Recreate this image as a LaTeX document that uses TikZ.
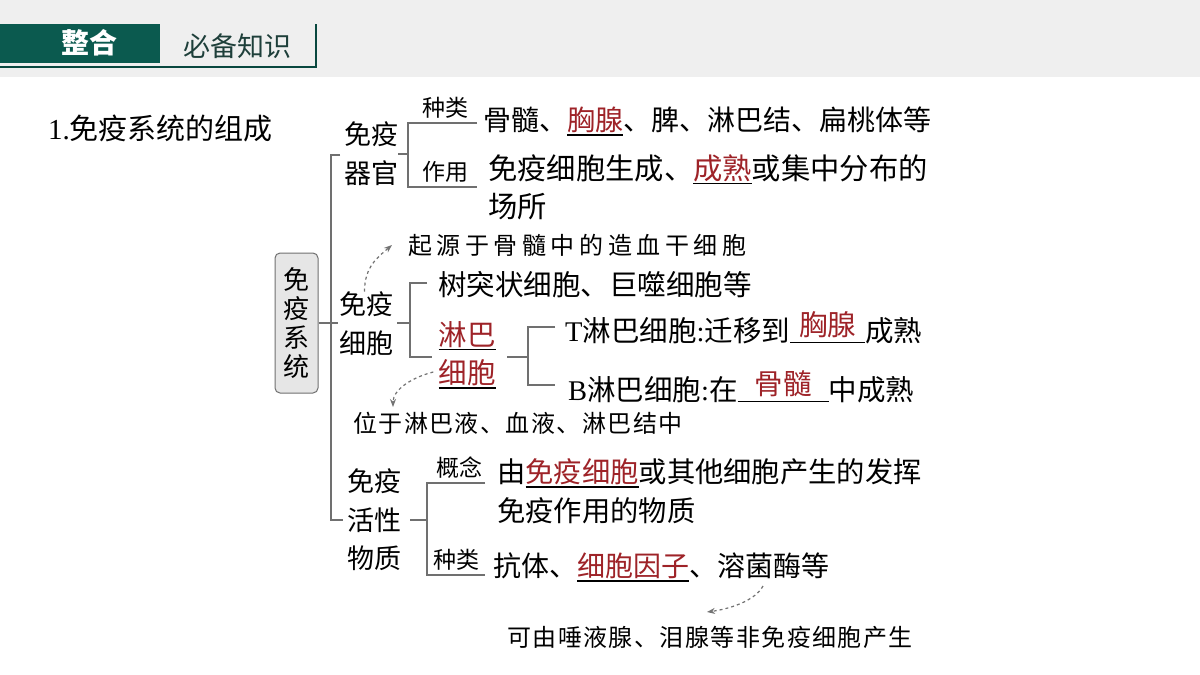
\documentclass[tikz,border=0pt]{standalone}
\usepackage{fontspec}
\setmainfont{Liberation Serif}
\newfontfamily\cjk{Noto Sans CJK SC}
\newfontfamily\kai[LetterSpace=6]{Noto Sans CJK SC}
\newfontfamily\kaiwide[LetterSpace=19]{Noto Sans CJK SC}
\usetikzlibrary{arrows.meta}

\definecolor{hdgreen}{HTML}{0B5A4F}
\definecolor{hdtext}{HTML}{1E3F3A}
\definecolor{ansred}{HTML}{9E2328}
\definecolor{linegray}{HTML}{707070}
\definecolor{bandgray}{HTML}{EFEFEF}
\definecolor{boxgray}{HTML}{E6E6E6}

% red answer with underline below it
\newcommand\fillin[1]{\setbox0\hbox{\textcolor{ansred}{#1}}\rlap{\rule[-5pt]{\wd0}{1.3pt}}\box0}
% red answer raised over a wider blank
\newcommand\gapin[2]{\setbox0\hbox{\hspace{#1}\raisebox{6pt}{\textcolor{ansred}{#2}}\hspace{#1}}\rlap{\rule[-1pt]{\wd0}{1.3pt}}\box0}

\begin{document}
\begin{tikzpicture}[x=1pt,y=-1pt,
  txt/.style={inner sep=0pt, anchor=base west, font=\cjk\fontsize{#1}{38.5}\selectfont},
  txt/.default=29,
  cat/.style={inner sep=0pt, align=center, font=\cjk\fontsize{27}{38.5}\selectfont},
  lbl/.style={inner sep=0pt, font=\cjk\fontsize{23}{26}\selectfont},
  note/.style={inner sep=0pt, anchor=west, font=\kai\fontsize{24}{26}\selectfont},
  brace/.style={draw=linegray, line width=1.3pt},
  hint/.style={draw=gray!90!black, dashed, line width=1.2pt, -{Stealth[length=8pt,width=6pt]}}]
\useasboundingbox (0,0) rectangle (1200,675);
\fill[white] (0,0) rectangle (1200,675);

% header
\fill[bandgray] (0,0) rectangle (1200,77);
\fill[hdgreen] (0,24) rectangle (160,63);
\draw[hdgreen!80!black, line width=1.5pt] (0,67) -- (316,67) -- (316,24);
\node[font=\cjk\bfseries\fontsize{28}{30}\selectfont, text=white, inner sep=0pt] (zhenghe) at (89,43) {整合};
\node[font=\cjk\fontsize{27}{30}\selectfont, text=hdtext, inner sep=0pt] (bibei) at (237,46) {必备知识};

\node[txt] (title) at (48,139) {\rmfamily 1.\cjk 免疫系统的组成};

% system box and main bracket
\node[draw=linegray, fill=boxgray, rounded corners=5pt, line width=1pt, minimum width=43pt,
  minimum height=140pt, inner sep=0pt, align=center, font=\cjk\fontsize{26}{29}\selectfont]
  (sys) at (296.5,323) {免\\疫\\系\\统};
\coordinate (mtop) at (331,155);
\coordinate (mbot) at (331,520);
\draw[brace] (340,155) -- (mtop) -- (mbot) -- (343,520);
\draw[brace] (sys.east) -- (338,323);

% organs
\node[cat] (organ) at (371,153.5) {免疫\\器官};
\draw[brace] (398,154) -- (408,154);
\draw[brace] (477,123) -- (408,123) -- (408,187) -- (477,187);
\node[lbl] (kind1) at (445,108) {种类};
\node[lbl] (use1) at (445,172) {作用};
\node[txt=28] (organs) at (483,130.6) {骨髓、\fillin{胸腺}、脾、淋巴结、扁桃体等};
\node[txt=29.3, anchor=west, align=left] (site) at (488,187.5) {免疫细胞生成、\fillin{成熟}或集中分布的\\场所};

% cells
\node[cat] (cells) at (366.5,323.5) {免疫\\细胞};
\draw[brace] (397,323) -- (410,323);
\draw[brace] (427,283) -- (410,283) -- (410,357) -- (432,357);
\node[txt=28.5] (dendr) at (438,295.8) {树突状细胞、巨噬细胞等};
\node[txt=28.5, anchor=center, align=center] (lymph) at (467,355) {\fillin{淋巴}\\\fillin{细胞}};
\draw[brace] (507,357) -- (528,357);
\draw[brace] (555,327) -- (528,327) -- (528,385) -- (555,385);
\node[txt=28.5] (tcell) at (565,341.8) {\rmfamily T\cjk 淋巴细胞\rmfamily :\cjk 迁移到\gapin{9pt}{胸腺}成熟};
\node[txt=28.5] (bcell) at (568,400.8) {\rmfamily B\cjk 淋巴细胞\rmfamily :\cjk 在\gapin{17pt}{骨髓}中成熟};
\node[note, font=\kaiwide\fontsize{24}{26}\selectfont] (origin) at (408,245) {起源于骨髓中的造血干细胞};
\node[note] (located) at (353,423) {位于淋巴液、血液、淋巴结中};
\draw[hint] ([xshift=-2pt]cells.north) .. controls +(0,-25) and +(-14,12) .. ([xshift=-16pt]origin.west);
\draw[hint] ([xshift=-5pt,yshift=-17pt]lymph.west) .. controls +(-20,5) and +(0,-18) .. ([xshift=40pt,yshift=16pt]located.west);

% active substances
\node[cat] (active) at (374.5,520) {免疫\\活性\\物质};
\draw[brace] (410,520) -- (427,520);
\draw[brace] (485,483) -- (427,483) -- (427,575) -- (485,575);
\node[lbl] (concept) at (459,468) {概念};
\node[lbl] (kind3) at (456,560) {种类};
\node[txt=28.3, anchor=west, align=left] (def) at (497,491) {由\fillin{免疫细胞}或其他细胞产生的发挥\\免疫作用的物质};
\node[txt=28] (kinds3) at (493,576.6) {抗体、\fillin{细胞因子}、溶菌酶等};
\node[note] (nonimm) at (507,637) {可由唾液腺、泪腺等非免疫细胞产生};
\draw[hint] ([xshift=270pt,yshift=-9.4pt]kinds3.base west) .. controls +(-8,15) and +(22,-3) .. ([xshift=200pt,yshift=25pt]nonimm.west);
\end{tikzpicture}
\end{document}
